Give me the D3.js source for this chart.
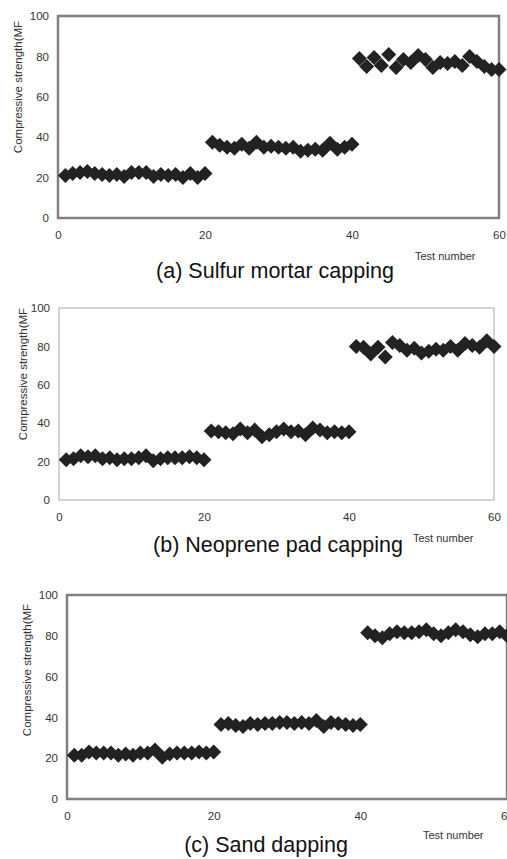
<!DOCTYPE html>
<html>
<head>
<meta charset="utf-8">
<script src="https://cdn.jsdelivr.net/npm/d3@7"></script>
<style>
  body { margin: 0; background: #fff; }
  svg { display: block; font-family: "Liberation Sans", Arial, sans-serif; }
</style>
</head>
<body>
<div id="chart"></div>
<script>
var testNumber = [1,2,3,4,5,6,7,8,9,10,11,12,13,14,15,16,17,18,19,20,
                  21,22,23,24,25,26,27,28,29,30,31,32,33,34,35,36,37,38,39,40,
                  41,42,43,44,45,46,47,48,49,50,51,52,53,54,55,56,57,58,59,60];

// (a) sulfur mortar capping
var sulfurMortar = [21,22,22.5,23,22,21.5,21,21.5,20.5,22.5,22.5,22.5,20.5,21.5,21,21.5,20,22,20,22,
                    37.5,36,35,34.5,36.5,34.5,37.5,35,35.5,35,34.5,35,33,33.5,34,33.5,37,34,35,36.5,
                    79,75,79.5,75.5,81,74.5,78.5,77,80.5,78.5,74.5,77,76.5,77.5,75.5,80,77.5,75,73.5,73.5];

// (b) neoprene pad capping
var neoprenePad = [21,21.5,23,22.5,23,21.5,22,21,21.5,21.5,22,23,20.5,21.5,22,22,22,22.5,22,21,
                   36,35.5,35,34.5,37,35,36.5,33,34,35.5,37,35.5,36,34,37.5,36.5,35,35.5,35,35.5,
                   80,79.5,76,79.5,74.5,82,80.5,78,79,76.5,77.5,78.5,78,80,78,81.5,80.5,79.5,83,80];

// (c) sand capping
var sandCapping = [21.5,21.5,23,22.5,22.5,22.5,21.5,22,21.5,22.5,22.5,24,20.5,22,22.5,22.5,22.5,23,22.5,23,
                   36.5,37,36,35.5,37,36.5,37,37,37.5,37.5,37,37.5,37,38.5,35.5,37.5,37,36.5,36,36.5,
                   81.5,80,79,81,82,81.5,81.5,82,83,81,80,81.5,83,82,80.5,79.5,81,81,82,80];

var xTicks = [0, 20, 40, 60];
var yTicks = [0, 20, 40, 60, 80, 100];
var yTitle = "Compressive strength(MF";
var xTitle = "Test number";

var panels = [
  {values: sulfurMortar, title: "(a) Sulfur mortar capping",
   left: 58, right: 499, top: 16, bottom: 218, frame: "#808080", frameW: 2.5,
   ylabX: 49, xlabY: 239, ytitX: 22, ytitY: 87, xtitX: 415, xtitY: 260, titX: 275, titY: 278},
  {values: neoprenePad, title: "(b) Neoprene pad capping",
   left: 59, right: 494, top: 308, bottom: 500, frame: "#a8a8a8", frameW: 1,
   ylabX: 50, xlabY: 521, ytitX: 27, ytitY: 374, xtitX: 413, xtitY: 542, titX: 278, titY: 552},
  {values: sandCapping, title: "(c) Sand dapping",
   left: 67, right: 507, top: 595, bottom: 799, frame: "#808080", frameW: 2.5,
   ylabX: 58, xlabY: 820, ytitX: 31, ytitY: 670, xtitX: 423, xtitY: 839, titX: 266, titY: 852}
];

var svg = d3.select("#chart").append("svg")
    .attr("width", 507)
    .attr("height", 859);

panels.forEach(function(p) {
  var x = d3.scaleLinear().domain([0, 60]).range([p.left, p.right]);
  var y = d3.scaleLinear().domain([0, 100]).range([p.bottom, p.top]);

  var g = svg.append("g");

  // y tick labels
  var yAxis = g.append("g")
      .attr("transform", "translate(" + (p.ylabX + 2) + ",0)")
      .call(d3.axisLeft(y).tickValues(yTicks).tickSize(0).tickPadding(2));
  yAxis.select(".domain").remove();
  yAxis.selectAll("text")
      .style("font-family", "Liberation Sans, Arial, sans-serif")
      .style("font-size", "11.5px")
      .attr("fill", "#333");

  // x tick labels
  var xAxis = g.append("g")
      .attr("transform", "translate(0," + (p.xlabY - 8) + ")")
      .call(d3.axisBottom(x).tickValues(xTicks).tickSize(0).tickPadding(0));
  xAxis.select(".domain").remove();
  xAxis.selectAll("text")
      .style("font-family", "Liberation Sans, Arial, sans-serif")
      .style("font-size", "11.5px")
      .attr("fill", "#333");

  // frame
  g.append("rect")
      .attr("x", x(0))
      .attr("y", y(100))
      .attr("width", x(60) - x(0))
      .attr("height", y(0) - y(100))
      .attr("fill", "none")
      .attr("stroke", p.frame)
      .attr("stroke-width", p.frameW);

  // diamonds
  g.selectAll(".pt")
    .data(p.values)
    .enter().append("path")
      .attr("class", "pt")
      .attr("d", "M0,-7.5L7.5,0L0,7.5L-7.5,0Z")
      .attr("transform", function(d, i) { return "translate(" + x(testNumber[i]) + "," + y(d) + ")"; })
      .attr("fill", "#222");

  g.append("text")
      .attr("transform", "translate(" + p.ytitX + "," + p.ytitY + ") rotate(-90)")
      .attr("text-anchor", "middle")
      .style("font-size", "11.5px")
      .attr("fill", "#333")
      .text(yTitle);

  g.append("text")
      .attr("x", p.xtitX)
      .attr("y", p.xtitY)
      .style("font-size", "11px")
      .attr("fill", "#333")
      .text(xTitle);

  g.append("text")
      .attr("x", p.titX)
      .attr("y", p.titY)
      .attr("text-anchor", "middle")
      .style("font-size", "21.5px")
      .attr("fill", "#111")
      .text(p.title);
});
</script>
</body>
</html>
